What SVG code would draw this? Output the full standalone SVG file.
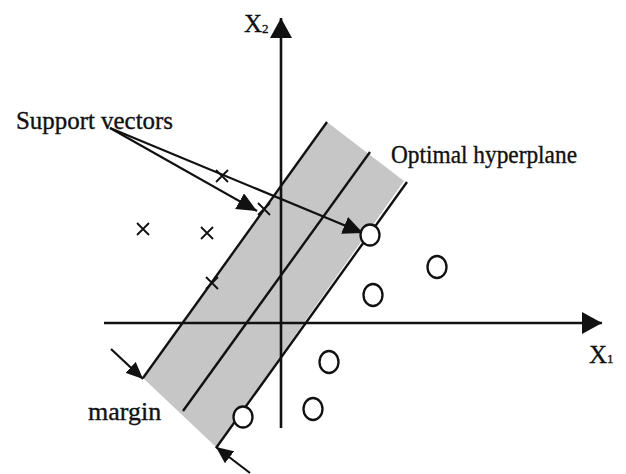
<svg xmlns="http://www.w3.org/2000/svg" width="626" height="474" viewBox="0 0 626 474">
  <style>
    text { font-family: "Liberation Serif", "Times New Roman", serif; fill: #111; stroke: #111; stroke-width: 0.35; }
    .lbl { font-size: 25px; }
    .sub { font-size: 13px; }
    .ax { stroke: #111; stroke-width: 2.6; fill: none; }
    .band { stroke: #111; stroke-width: 2.4; fill: none; }
    .conn { stroke: #111; stroke-width: 2.2; fill: none; }
    .cross { stroke: #111; stroke-width: 1.8; fill: none; }
    .pt { stroke: #111; stroke-width: 2.3; fill: #fff; }
  </style>
  <defs>
    <marker id="axhead" markerUnits="userSpaceOnUse" markerWidth="20" markerHeight="22" refX="20" refY="11" orient="auto">
      <path d="M0,0 L20,11 L0,22 z" fill="#111"/>
    </marker>
    <marker id="ptr" markerUnits="userSpaceOnUse" markerWidth="20" markerHeight="18" refX="20" refY="9" orient="auto">
      <path d="M0,0 L20,9 L0,18 z" fill="#111"/>
    </marker>
    <marker id="ptr2" markerUnits="userSpaceOnUse" markerWidth="17" markerHeight="15" refX="17" refY="7.5" orient="auto">
      <path d="M0,0 L17,7.5 L0,15 z" fill="#111"/>
    </marker>
  </defs>
  <rect width="626" height="474" fill="#fff"/>

  <g id="margin-band">
    <polygon points="327,122 404,181 216,447 143,378" fill="#c6c6c6"/>
  </g>

  <g id="axes">
    <line class="ax" x1="104" y1="323" x2="602" y2="323" marker-end="url(#axhead)"/>
    <line class="ax" x1="281" y1="428" x2="281" y2="18" marker-end="url(#axhead)"/>
  </g>

  <g id="hyperplanes">
    <line id="support-plane-left" class="band" x1="327" y1="122" x2="143" y2="378"/>
    <line id="optimal-hyperplane" class="band" x1="370" y1="152" x2="183" y2="411"/>
    <line id="support-plane-right" class="band" x1="407" y1="182" x2="216" y2="448"/>
  </g>

  <g id="class-x">
    <path class="cross" d="M137,223 L149,235 M149,223 L137,235"/>
    <path class="cross" d="M201,227 L213,239 M213,227 L201,239"/>
    <path class="cross" d="M216,170 L228,182 M228,170 L216,182"/>
    <path class="cross" d="M258,203 L270,215 M270,203 L258,215"/>
    <path class="cross" d="M206,277 L218,289 M218,277 L206,289"/>
  </g>

  <g id="connectors">
    <line class="conn" x1="110" y1="128" x2="363" y2="233" marker-end="url(#ptr)"/>
    <line class="conn" x1="110" y1="128" x2="257" y2="211" marker-end="url(#ptr)"/>
    <line class="conn" x1="111" y1="349" x2="143" y2="379" marker-end="url(#ptr2)"/>
    <line class="conn" x1="250" y1="473" x2="216" y2="447" marker-end="url(#ptr2)"/>
  </g>

  <g id="class-o">
    <ellipse class="pt" cx="370" cy="235" rx="9.5" ry="10.5"/>
    <ellipse class="pt" cx="437" cy="267" rx="9.5" ry="11"/>
    <ellipse class="pt" cx="373" cy="295" rx="9.5" ry="11"/>
    <ellipse class="pt" cx="329" cy="362" rx="9.5" ry="11"/>
    <ellipse class="pt" cx="313" cy="409" rx="9.5" ry="11"/>
    <ellipse class="pt" cx="243" cy="417" rx="9.5" ry="10.5"/>
  </g>

  <g id="labels">
    <text id="label-x2" class="lbl" x="244" y="32">X<tspan class="sub" dy="1">2</tspan></text>
    <text id="label-x1" class="lbl" x="589" y="363">X<tspan class="sub">1</tspan></text>
    <text id="label-support" class="lbl" x="16" y="129" textLength="157" lengthAdjust="spacingAndGlyphs">Support vectors</text>
    <text id="label-optimal" class="lbl" x="391" y="163" textLength="186" lengthAdjust="spacingAndGlyphs">Optimal hyperplane</text>
    <text id="label-margin" class="lbl" x="88" y="420" style="font-size:26px">margin</text>
  </g>
</svg>
